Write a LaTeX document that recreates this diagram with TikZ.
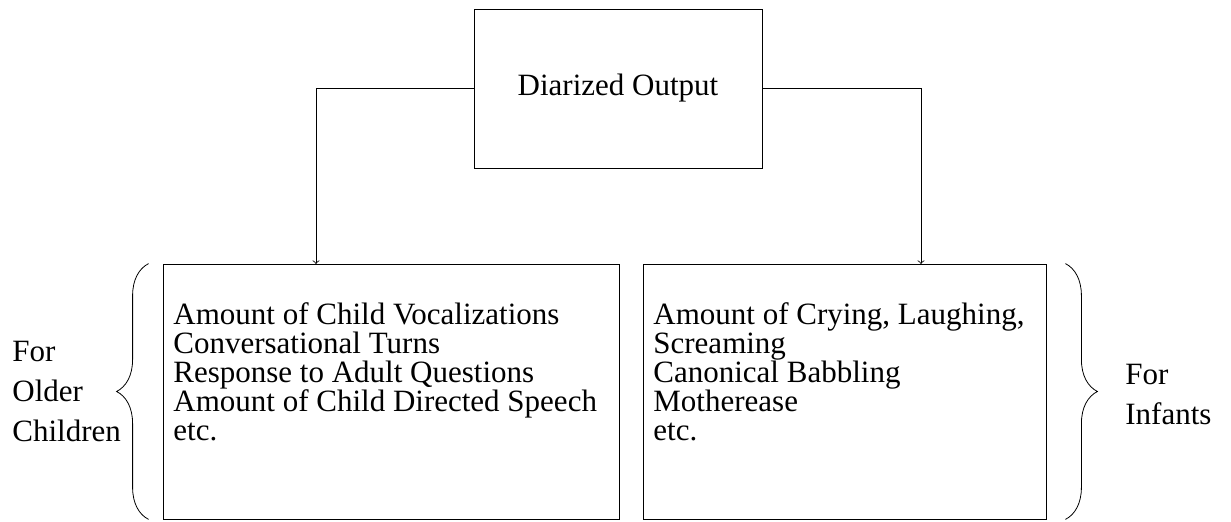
\documentclass[tikz,border=0pt]{standalone}
\usepackage{fontspec}
\setmainfont{Liberation Serif}
\usetikzlibrary{decorations.pathreplacing}

\begin{document}
\begin{tikzpicture}[x=0.5pt, y=-0.5pt, every node/.style={font=\fontsize{15.5}{14.5}\selectfont}]
\useasboundingbox (0,0) rectangle (1231,522);
\tikzset{panel/.style={draw, rectangle, minimum height=127.5pt},
  listtext/.style={anchor=north west, align=left, inner sep=0pt},
  sidetext/.style={anchor=west, align=left, inner sep=0pt, font=\fontsize{15.5}{20}\selectfont},
  curly/.style={decorate, decoration={brace, amplitude=16pt}}}

\node[draw, rectangle, minimum width=144pt, minimum height=79.5pt] (diar) at (618,88.5) {Diarized Output};
\node[panel, minimum width=228pt] (older) at (391,391.5) {};
\node[panel, minimum width=201.5pt] (infant) at (844.5,391.5) {};

\node[listtext] (olderlist) at (173,302) {Amount of Child Vocalizations\\Conversational Turns\\Response to Adult Questions\\Amount of Child Directed Speech\\etc.};
\node[listtext] (infantlist) at (653,302) {Amount of Crying, Laughing,\\Screaming\\Canonical Babbling\\Motherease\\etc.};

\node[sidetext] (olderlabel) at (12,392) {For\\Older\\Children};
\node[sidetext] (infantlabel) at (1125,395) {For\\Infants};

\coordinate (olderin) at (316,264);
\coordinate (infantin) at (921,264);

\draw[->] (diar.west) -| (olderin);
\draw[->] (diar.east) -| (infantin);

\draw[curly] ([xshift=-7pt]older.south west) -- ([xshift=-7pt]older.north west);
\draw[curly] ([xshift=9.5pt]infant.north east) -- ([xshift=9.5pt]infant.south east);
\end{tikzpicture}
\end{document}
